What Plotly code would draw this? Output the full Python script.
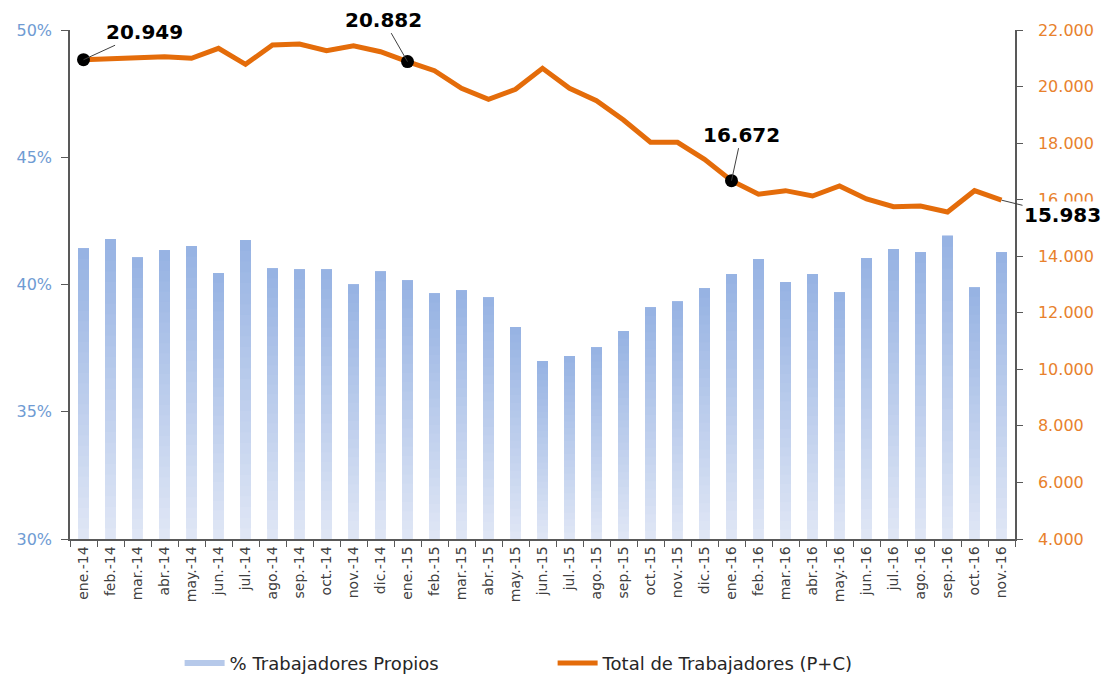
import plotly.graph_objects as go

categories = [
    "ene.-14", "feb.-14", "mar.-14", "abr.-14", "may.-14", "jun.-14", "jul.-14", "ago.-14",
    "sep.-14", "oct.-14", "nov.-14", "dic.-14",
    "ene.-15", "feb.-15", "mar.-15", "abr.-15", "may.-15", "jun.-15", "jul.-15", "ago.-15",
    "sep.-15", "oct.-15", "nov.-15", "dic.-15",
    "ene.-16", "feb.-16", "mar.-16", "abr.-16", "may.-16", "jun.-16", "jul.-16", "ago.-16",
    "sep.-16", "oct.-16", "nov.-16",
]

pct_propios = [
    41.41, 41.78, 41.05, 41.34, 41.50, 40.44, 41.74, 40.62, 40.58, 40.58, 39.99, 40.50,
    40.15, 39.64, 39.76, 39.48, 38.33, 36.99, 37.19, 37.52, 38.17, 39.09, 39.32, 39.84,
    40.40, 40.99, 40.09, 40.40, 39.68, 41.03, 41.38, 41.26, 41.91, 39.87, 41.26,
]

total_trab = [
    20949, 20975, 21000, 21056, 21000, 21353, 20787, 21470, 21505, 21268, 21445, 21233,
    20882, 20561, 19938, 19549, 19903, 20646, 19938, 19500, 18818, 18029, 18029, 17428,
    16672, 16190, 16318, 16130, 16484, 16024, 15752, 15777, 15565, 16318, 15983,
]

highlight_idx = [0, 12, 24]
label_idx = [0, 12, 24, 34]
label_offsets = {0: (61, -28), 12: (-24, -42), 24: (10, -46), 34: (61, 15)}

name_bar = "% Trabajadores Propios"
name_line = "Total de Trabajadores (P+C)"

BASE = 30
N_SEG = 28
c_bottom = (223, 230, 245)
c_top = (151, 179, 227)
ORANGE = "#e46c0a"
FONT = "DejaVu Sans"

fig = go.Figure()

# gradient bars: each bar drawn as layered slices from a rising base up to its own top
for k in range(N_SEG):
    t = k / (N_SEG - 1)
    col = tuple(round(c_bottom[i] + (c_top[i] - c_bottom[i]) * t) for i in range(3))
    fig.add_trace(go.Bar(
        x=categories,
        y=[(v - BASE) * (1 - k / N_SEG) for v in pct_propios],
        base=[BASE + (v - BASE) * k / N_SEG for v in pct_propios],
        width=0.4,
        marker=dict(color="rgb(%d,%d,%d)" % col, line=dict(width=0)),
        showlegend=False,
        hoverinfo="skip",
        yaxis="y",
    ))

# legend proxy for the bars
fig.add_trace(go.Scatter(
    x=[None], y=[None], mode="lines", name=name_bar,
    line=dict(color="#b6c9ea", width=6), yaxis="y",
))

fig.add_trace(go.Scatter(
    x=categories, y=total_trab, mode="lines", name=name_line,
    line=dict(color=ORANGE, width=5), yaxis="y2",
))

fig.add_trace(go.Scatter(
    x=[categories[i] for i in highlight_idx],
    y=[total_trab[i] for i in highlight_idx],
    mode="markers", marker=dict(color="black", size=13),
    showlegend=False, hoverinfo="skip", yaxis="y2",
))

annotations = []
for i in label_idx:
    ax, ay = label_offsets[i]
    ann = dict(
        x=categories[i], y=total_trab[i], xref="x", yref="y2",
        text=f"{total_trab[i]:,}".replace(",", "."),
        showarrow=True, arrowhead=0, arrowwidth=1, arrowcolor="#404040",
        ax=ax, ay=ay, font=dict(family=FONT, size=20, color="black", weight="bold"),
    )
    if i == 34:
        ann["bgcolor"] = "white"
    annotations.append(ann)

axis_line = "#595959"

fig.update_layout(
    width=1108, height=669,
    margin=dict(l=62, r=101, t=22, b=138, autoexpand=False),
    paper_bgcolor="white", plot_bgcolor="white",
    barmode="overlay",
    separators=",.",
    font=dict(family=FONT),
    showlegend=True,
    legend=dict(
        orientation="h", x=0.116, xanchor="left", y=-0.244, yanchor="middle",
        font=dict(family=FONT, size=18, color="#262626"),
        entrywidth=318, entrywidthmode="pixels", itemwidth=40,
        bgcolor="rgba(0,0,0,0)",
    ),
    xaxis=dict(
        type="category", range=[-0.5, 34.5], automargin=False,
        showline=True, linecolor=axis_line, linewidth=1.5,
        ticks="outside", tickson="boundaries", ticklen=6, tickcolor=axis_line,
        tickangle=-90, tickfont=dict(family=FONT, size=14, color="#404040"),
        showgrid=False, zeroline=False,
    ),
    yaxis=dict(
        range=[30, 50], dtick=5, tick0=30, ticksuffix="%", automargin=False,
        showline=True, linecolor=axis_line, linewidth=1.5,
        ticks="outside", ticklen=7, tickcolor=axis_line, ticklabelstandoff=6,
        tickfont=dict(family=FONT, size=16, color="#6f9bd3"),
        showgrid=False, zeroline=False,
    ),
    yaxis2=dict(
        overlaying="y", side="right", automargin=False,
        range=[4000, 22000], dtick=2000, tick0=4000, tickformat=",d",
        showline=True, linecolor=axis_line, linewidth=1.5,
        ticks="outside", ticklen=6, tickcolor=axis_line, ticklabelstandoff=12,
        tickfont=dict(family=FONT, size=16, color="#e8812c"),
        showgrid=False, zeroline=False,
    ),
    annotations=annotations,
)

fig.write_html("out.html")
